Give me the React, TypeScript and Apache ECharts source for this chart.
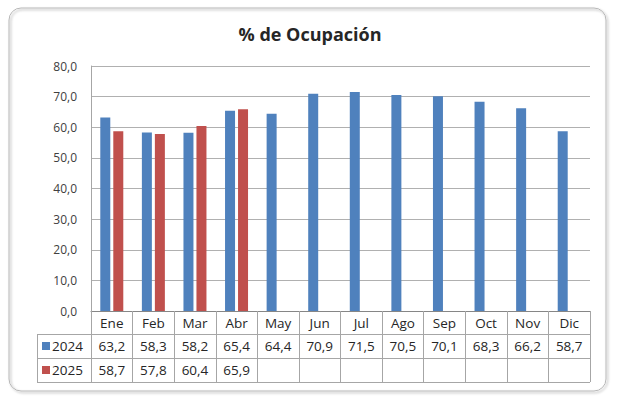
import React, { useEffect, useRef } from "react";
import * as echarts from "echarts";

const categories = ["Ene", "Feb", "Mar", "Abr", "May", "Jun", "Jul", "Ago", "Sep", "Oct", "Nov", "Dic"];
const seriesNames = ["2024", "2025"];
const values2024 = [63.2, 58.3, 58.2, 65.4, 64.4, 70.9, 71.5, 70.5, 70.1, 68.3, 66.2, 58.7];
const values2025: (number | null)[] = [58.7, 57.8, 60.4, 65.9, null, null, null, null, null, null, null, null];
const colors = ["#4f81bd", "#c0504d"];
const yTicks = { min: 0, max: 80, interval: 10 };

const fmt = (v: number | null) => (v == null ? "" : v.toFixed(1).replace(".", ","));

export default function App() {
  const ref = useRef<HTMLDivElement>(null);
  useEffect(() => {
    if (!ref.current) return;
    const chart = echarts.init(ref.current, null, { renderer: "svg" });
    const W = 620;
    const gridLeft = 91;
    const gridRight = 590;
    const gridTop = 66;
    const gridBottomY = 311;
    const rowH = [334, 358, 382];
    const tableLeft = 37;
    const font = "'Open Sans', sans-serif";
    const lineColor = "#a6a6a6";
    const textColor = "#262626";
    const allSeries = [values2024, values2025];

    const tableAxis = (data: string[], margin: number, idx: number) => ({
      type: "category",
      gridIndex: 0,
      position: "bottom",
      data,
      boundaryGap: true,
      axisLine: { show: idx === 0, lineStyle: { color: "#868686" } },
      axisTick: idx === 0
        ? { show: true, interval: 0, inside: false, length: rowH[2] - gridBottomY, lineStyle: { color: lineColor } }
        : { show: false },
      axisLabel: {
        interval: 0,
        margin,
        verticalAlign: "middle",
        color: textColor,
        fontSize: 13.5,
        fontFamily: font,
      },
      splitLine: { show: false },
    });

    const graphics: any[] = [
      {
        type: "rect",
        shape: { x: 9, y: 8, width: 597, height: 383, r: 12 },
        style: {
          fill: "none",
          stroke: "#b8b8b8",
          lineWidth: 1,
          shadowBlur: 2,
          shadowOffsetX: 1.5,
          shadowOffsetY: 1.5,
          shadowColor: "rgba(0,0,0,0.35)",
        },
        silent: true,
      },
    ];
    rowH.forEach((y) => {
      graphics.push({
        type: "line",
        shape: { x1: tableLeft, y1: y + 0.5, x2: gridRight, y2: y + 0.5 },
        style: { stroke: lineColor, lineWidth: 1 },
        silent: true,
      });
    });
    graphics.push({
      type: "line",
      shape: { x1: tableLeft + 0.5, y1: rowH[0], x2: tableLeft + 0.5, y2: rowH[2] },
      style: { stroke: lineColor, lineWidth: 1 },
      silent: true,
    });
    seriesNames.forEach((name, i) => {
      const cy = (rowH[i] + rowH[i + 1]) / 2;
      graphics.push({
        type: "rect",
        shape: { x: 42, y: cy - 4, width: 8, height: 8 },
        style: { fill: colors[i] },
        silent: true,
      });
      graphics.push({
        type: "text",
        x: 52,
        y: cy,
        style: {
          text: name,
          fill: textColor,
          font: `13.5px ${font}`,
          verticalAlign: "middle",
          align: "left",
        },
        silent: true,
      });
    });

    chart.setOption({
      animation: false,
      title: {
        text: "% de Ocupación",
        left: "center",
        top: 20,
        textStyle: { fontSize: 18, fontWeight: "bold", color: textColor, fontFamily: font },
      },
      grid: {
        left: gridLeft,
        right: W - gridRight,
        top: gridTop,
        bottom: 399 - gridBottomY,
        containLabel: false,
      },
      xAxis: [
        tableAxis(categories, 12, 0),
        tableAxis(values2024.map(fmt), (rowH[0] + rowH[1]) / 2 - gridBottomY, 1),
        tableAxis(values2025.map(fmt), (rowH[1] + rowH[2]) / 2 - gridBottomY, 2),
      ],
      yAxis: {
        type: "value",
        min: yTicks.min,
        max: yTicks.max,
        interval: yTicks.interval,
        axisLine: { show: true, lineStyle: { color: lineColor } },
        axisTick: { show: false },
        axisLabel: {
          formatter: (v: number) => fmt(v),
          color: "#404040",
          fontSize: 12,
          fontFamily: font,
          margin: 14,
        },
        splitLine: { show: true, lineStyle: { color: "#b0b0b0", width: 1 } },
      },
      series: allSeries.map((data, i) => ({
        name: seriesNames[i],
        type: "bar",
        xAxisIndex: 0,
        data,
        barWidth: 10,
        barGap: "30%",
        itemStyle: { color: colors[i] },
      })),
      graphic: graphics,
    });
    return () => chart.dispose();
  }, []);
  return (
    <div
      ref={ref}
      style={{ position: "absolute", left: 0, top: 0, width: 620, height: 399, background: "#fff" }}
    />
  );
}
